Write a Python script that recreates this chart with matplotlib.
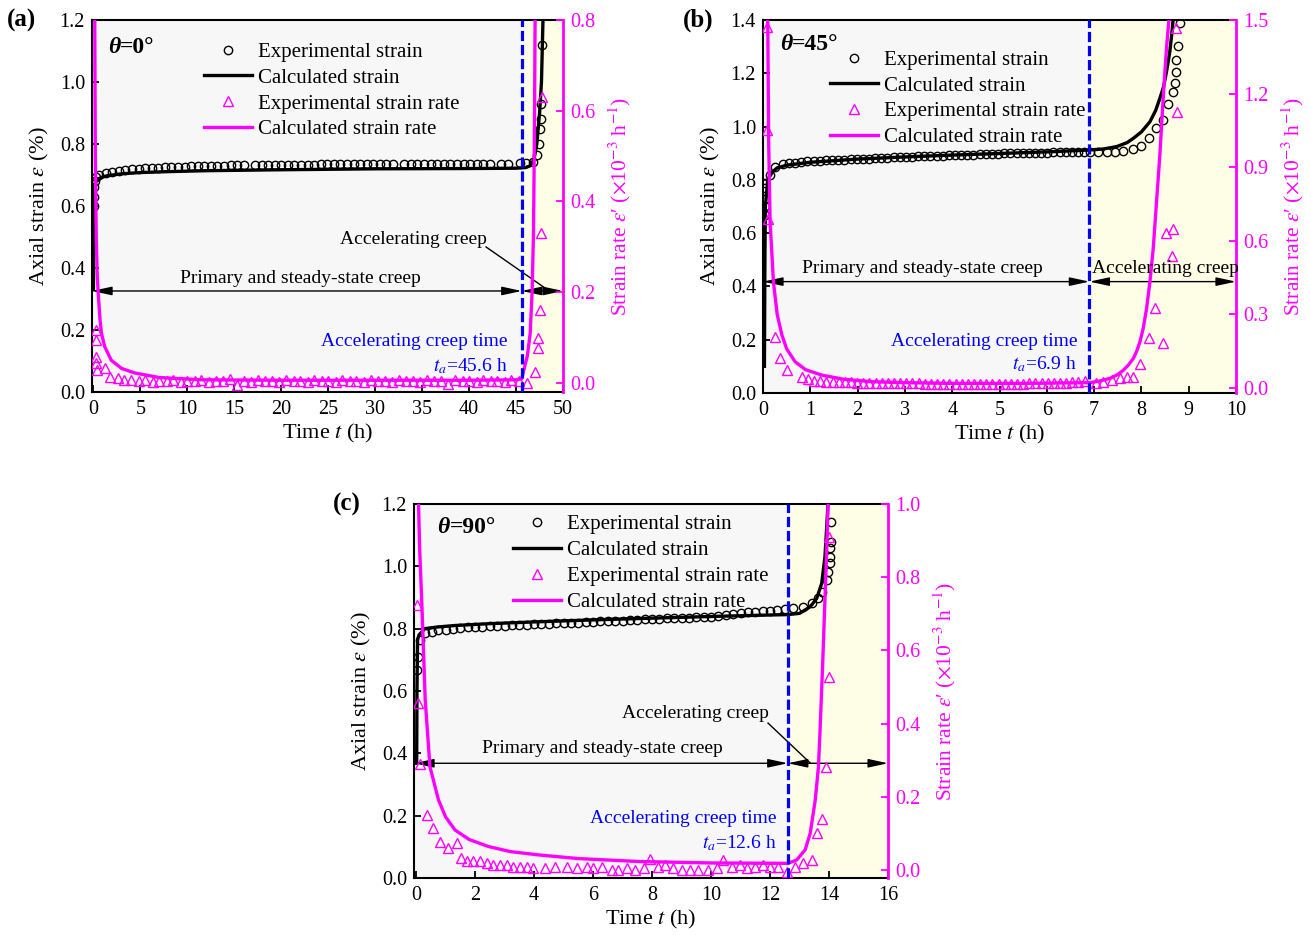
import matplotlib.pyplot as plt

plt.rcParams['font.family'] = ['Liberation Serif', 'DejaVu Serif']
plt.rcParams['mathtext.fontset'] = 'stix'
plt.rcParams['axes.unicode_minus'] = False

MAGENTA = '#ff00ff'
BLUE = '#0000ff'
GRAY_BG = '#f7f7f7'
YELLOW_BG = '#fefee6'

# ---------------- (a) theta = 0 deg ----------------
ta_a = 45.6
es_t_a = [
    0.02, 0.06, 0.10, 0.15, 0.25, 0.6, 1.3, 2.0, 2.7, 3.4,
    4.1, 4.8, 5.5, 6.2, 6.9, 7.6, 8.3, 9.0, 9.7, 10.4,
    11.1, 11.8, 12.5, 13.2, 13.9, 14.6, 15.3, 16.0, 17.2, 17.9,
    18.6, 19.3, 20.0, 20.7, 21.4, 22.1, 22.8, 23.5, 24.2, 24.9,
    25.6, 26.3, 27.0, 27.7, 28.4, 29.1, 29.8, 30.5, 31.2, 31.9,
    33.1, 33.8, 34.5, 35.2, 35.9, 36.6, 37.3, 38.0, 38.7, 39.4,
    40.1, 40.8, 41.5, 42.2, 43.4, 44.1, 45.4, 46.1, 46.8, 47.2,
    47.4, 47.5, 47.6, 47.7, 47.8]
es_v_a = [
    0.600, 0.630, 0.660, 0.680, 0.695, 0.700, 0.705, 0.710, 0.713, 0.716,
    0.718, 0.720, 0.722, 0.723, 0.724, 0.725, 0.726, 0.727, 0.727, 0.728,
    0.728, 0.729, 0.729, 0.730, 0.730, 0.731, 0.731, 0.731, 0.731, 0.732,
    0.732, 0.732, 0.732, 0.733, 0.733, 0.733, 0.733, 0.733, 0.734, 0.734,
    0.734, 0.734, 0.734, 0.734, 0.735, 0.735, 0.735, 0.735, 0.735, 0.735,
    0.735, 0.735, 0.736, 0.736, 0.736, 0.736, 0.736, 0.736, 0.736, 0.736,
    0.737, 0.737, 0.737, 0.737, 0.737, 0.737, 0.740, 0.740, 0.742, 0.765,
    0.800, 0.850, 0.880, 0.930, 1.120]
cs_t_a = [0.0, 0.02, 0.05, 0.1, 0.2, 0.4, 0.8, 1.5, 3.0, 5.0, 8.0, 12.0,
          20.0, 30.0, 40.0, 45.0, 46.0, 46.5, 46.9, 47.2, 47.5, 47.7, 47.9]
cs_v_a = [0.33, 0.55, 0.63, 0.66, 0.675, 0.685, 0.692, 0.698, 0.704, 0.708,
          0.711, 0.714, 0.717, 0.720, 0.721, 0.722, 0.724, 0.730, 0.750,
          0.800, 0.900, 1.000, 1.250]
er_t_a = [
    0.30, 0.30, 0.30, 0.30, 0.35, 1.2, 1.8, 2.6, 3.3, 4.0,
    4.8, 5.5, 6.3, 7.0, 7.8, 8.5, 9.3, 10.0, 10.8, 11.5,
    12.3, 13.0, 13.8, 14.5, 15.3, 16.0, 16.8, 17.5, 18.3, 19.0,
    19.8, 20.5, 21.3, 22.0, 22.8, 23.5, 24.3, 25.0, 25.8, 26.5,
    27.3, 28.0, 28.8, 29.5, 30.3, 31.0, 31.8, 32.5, 33.3, 34.0,
    34.8, 35.5, 36.3, 37.0, 37.8, 38.5, 39.3, 40.0, 40.8, 41.5,
    42.3, 43.0, 43.8, 44.5, 45.3, 46.2, 47.0, 47.3, 47.3, 47.5,
    47.7, 47.8]
er_r_a = [
    0.117, 0.095, 0.057, 0.044, 0.029, 0.033, 0.013, 0.011, 0.007, 0.006,
    0.004, 0.006, 0.003, 0.005, 0.004, 0.006, 0.003, 0.005, 0.004, 0.006,
    0.003, 0.005, 0.004, 0.008, -0.004, 0.005, 0.003, 0.006, 0.004, 0.005,
    0.003, 0.006, 0.004, 0.005, 0.003, 0.006, 0.004, 0.005, 0.003, 0.006,
    0.004, 0.005, 0.003, 0.006, 0.004, 0.005, 0.003, 0.006, 0.004, 0.005,
    0.003, 0.006, 0.004, 0.005, -0.002, 0.006, 0.004, 0.005, 0.003, 0.006,
    0.004, 0.005, 0.003, 0.006, 0.004, 0.000, 0.025, 0.077, 0.099, 0.160,
    0.330, 0.630]
cr_t_a = [0.05, 0.10, 0.14, 0.20, 0.30, 0.40, 0.50, 0.70, 0.85, 1.2, 1.9,
          3.0, 4.4, 7.0, 11.5, 20.0, 30.0, 40.0, 45.0, 45.6, 45.9, 46.2,
          46.5, 46.7, 46.85, 46.95, 47.05]
cr_r_a = [3.0, 1.2, 0.80, 0.50, 0.32, 0.24, 0.20, 0.14, 0.11, 0.08, 0.05,
          0.032, 0.022, 0.012, 0.007, 0.006, 0.006, 0.006, 0.007, 0.009,
          0.035, 0.060, 0.110, 0.200, 0.330, 0.550, 0.900]

# ---------------- (b) theta = 45 deg ----------------
ta_b = 6.9
es_t_b = [
    0.04, 0.04, 0.04, 0.04, 0.04, 0.15, 0.25, 0.42, 0.55, 0.68,
    0.81, 0.94, 1.07, 1.20, 1.33, 1.46, 1.59, 1.72, 1.85, 1.98,
    2.11, 2.24, 2.37, 2.50, 2.63, 2.76, 2.89, 3.02, 3.15, 3.28,
    3.41, 3.54, 3.67, 3.80, 3.93, 4.06, 4.19, 4.32, 4.45, 4.58,
    4.71, 4.84, 4.97, 5.10, 5.23, 5.36, 5.49, 5.62, 5.75, 5.88,
    6.01, 6.14, 6.27, 6.40, 6.53, 6.66, 6.79, 6.91, 7.09, 7.27,
    7.44, 7.62, 7.82, 7.99, 8.17, 8.31, 8.45, 8.57, 8.66, 8.71,
    8.73, 8.74, 8.78, 8.82]
es_v_b = [
    0.668, 0.700, 0.730, 0.770, 0.790, 0.820, 0.850, 0.860, 0.863, 0.865,
    0.867, 0.869, 0.870, 0.872, 0.873, 0.874, 0.875, 0.876, 0.877, 0.878,
    0.879, 0.880, 0.881, 0.882, 0.883, 0.884, 0.885, 0.886, 0.887, 0.888,
    0.889, 0.890, 0.891, 0.891, 0.892, 0.893, 0.894, 0.894, 0.895, 0.896,
    0.897, 0.897, 0.898, 0.899, 0.899, 0.900, 0.900, 0.901, 0.901, 0.902,
    0.902, 0.903, 0.903, 0.904, 0.904, 0.905, 0.905, 0.906, 0.906, 0.906,
    0.906, 0.908, 0.916, 0.928, 0.956, 0.996, 1.025, 1.084, 1.131, 1.162,
    1.204, 1.250, 1.304, 1.390]
cs_t_b = [0.03, 0.04, 0.05, 0.10, 0.20, 0.30, 0.50, 1.0, 2.0, 3.0, 4.0,
          5.0, 6.0, 6.9, 7.2, 7.48, 7.7, 7.83, 8.0, 8.18, 8.3, 8.39, 8.47,
          8.53, 8.6, 8.64, 8.68]
cs_v_b = [0.10, 0.50, 0.70, 0.80, 0.83, 0.845, 0.855, 0.866, 0.878, 0.886,
          0.893, 0.899, 0.905, 0.912, 0.916, 0.925, 0.940, 0.956, 0.980,
          1.018, 1.060, 1.106, 1.150, 1.206, 1.280, 1.344, 1.420]
er_t_b = [
    0.09, 0.09, 0.11, 0.25, 0.36, 0.50, 0.82, 0.95, 1.08, 1.21,
    1.34, 1.47, 1.60, 1.73, 1.86, 1.99, 2.12, 2.25, 2.38, 2.51,
    2.64, 2.77, 2.90, 3.03, 3.16, 3.29, 3.42, 3.55, 3.68, 3.81,
    3.94, 4.07, 4.20, 4.33, 4.46, 4.59, 4.72, 4.85, 4.98, 5.11,
    5.24, 5.37, 5.50, 5.63, 5.76, 5.89, 6.02, 6.15, 6.28, 6.41,
    6.54, 6.67, 6.80, 7.05, 7.19, 7.37, 7.55, 7.69, 7.83, 7.97,
    8.17, 8.29, 8.46, 8.53, 8.67, 8.64, 8.75, 8.73]
er_r_b = [
    1.473, 1.050, 0.690, 0.209, 0.121, 0.073, 0.046, 0.035, 0.030, 0.028,
    0.026, 0.025, 0.024, 0.024, 0.023, 0.022, 0.022, 0.021, 0.021, 0.020,
    0.020, 0.020, 0.019, 0.019, 0.019, 0.019, 0.018, 0.018, 0.018, 0.018,
    0.018, 0.018, 0.018, 0.018, 0.018, 0.018, 0.018, 0.018, 0.018, 0.018,
    0.018, 0.018, 0.018, 0.019, 0.019, 0.019, 0.019, 0.020, 0.020, 0.022,
    0.024, 0.026, 0.028, 0.019, 0.026, 0.033, 0.040, 0.046, 0.046, 0.100,
    0.203, 0.325, 0.182, 0.630, 0.650, 0.540, 1.126, 1.466]
cr_t_b = [0.07, 0.10, 0.12, 0.15, 0.22, 0.30, 0.40, 0.50, 0.68, 0.90, 1.24,
          1.70, 2.30, 3.0, 4.06, 5.5, 6.9, 7.1, 7.34, 7.5, 7.62, 7.73, 7.83,
          7.9, 7.97, 8.04, 8.11, 8.18, 8.25, 8.32, 8.39, 8.46, 8.53, 8.59]
cr_r_b = [2.5, 1.5, 1.0, 0.68, 0.433, 0.30, 0.216, 0.16, 0.107, 0.075, 0.053,
          0.036, 0.026, 0.022, 0.019, 0.019, 0.022, 0.028, 0.040, 0.055,
          0.073, 0.095, 0.121, 0.150, 0.189, 0.245, 0.325, 0.433, 0.569,
          0.760, 0.950, 1.181, 1.385, 1.520]

# ---------------- (c) theta = 90 deg ----------------
ta_c = 12.6
es_t_c = [
    0.02, 0.08, 0.14, 0.30, 0.53, 0.76, 1.00, 1.25, 1.50, 1.75,
    2.00, 2.25, 2.50, 2.75, 3.00, 3.25, 3.50, 3.75, 4.00, 4.25,
    4.50, 4.75, 5.00, 5.25, 5.50, 5.75, 6.00, 6.25, 6.50, 6.75,
    7.00, 7.25, 7.50, 7.75, 8.00, 8.25, 8.50, 8.75, 9.00, 9.25,
    9.50, 9.75, 10.00, 10.25, 10.50, 10.75, 11.00, 11.25, 11.50, 11.75,
    12.00, 12.25, 12.50, 12.79, 13.13, 13.41, 13.64, 13.75, 13.92, 13.97,
    14.03, 14.03, 14.03, 14.06, 14.06]
es_v_c = [
    0.667, 0.710, 0.763, 0.785, 0.790, 0.796, 0.797, 0.800, 0.802, 0.804,
    0.805, 0.806, 0.807, 0.808, 0.810, 0.811, 0.812, 0.813, 0.815, 0.815,
    0.816, 0.817, 0.818, 0.819, 0.819, 0.820, 0.822, 0.823, 0.824, 0.825,
    0.826, 0.827, 0.829, 0.830, 0.832, 0.832, 0.833, 0.833, 0.834, 0.835,
    0.836, 0.837, 0.838, 0.842, 0.845, 0.848, 0.850, 0.852, 0.854, 0.855,
    0.856, 0.859, 0.862, 0.865, 0.870, 0.881, 0.897, 0.919, 0.956, 0.983,
    1.010, 1.031, 1.058, 1.079, 1.143]
cs_t_c = [0.02, 0.03, 0.05, 0.10, 0.30, 0.70, 1.32, 2.50, 4.15, 6.00, 7.76,
          10.0, 12.1, 12.6, 13.0, 13.36, 13.58, 13.75, 13.86, 13.92, 13.97]
cs_v_c = [0.368, 0.600, 0.763, 0.780, 0.800, 0.805, 0.810, 0.816, 0.822,
          0.828, 0.833, 0.839, 0.844, 0.845, 0.849, 0.870, 0.897, 0.945,
          1.030, 1.126, 1.213]
er_t_c = [
    0.04, 0.08, 0.14, 0.36, 0.59, 0.81, 1.07, 1.38, 1.53, 1.72,
    1.94, 2.17, 2.40, 2.62, 2.85, 3.07, 3.30, 3.53, 3.75, 3.98,
    4.37, 4.71, 5.11, 5.45, 5.79, 6.01, 6.29, 6.63, 6.86, 7.14,
    7.42, 7.71, 7.93, 8.21, 8.44, 8.72, 9.01, 9.29, 9.57, 9.91,
    10.19, 10.42, 10.70, 10.98, 11.21, 11.49, 11.77, 12.00, 12.28, 12.57,
    12.85, 13.13, 13.41, 13.60, 13.75, 13.90, 14.01, 14.01]
er_r_c = [
    0.724, 0.455, 0.290, 0.150, 0.114, 0.077, 0.059, 0.073, 0.032, 0.023,
    0.023, 0.023, 0.018, 0.014, 0.014, 0.014, 0.009, 0.009, 0.009, 0.005,
    0.005, 0.009, 0.009, 0.005, 0.009, 0.005, 0.009, 0.000, 0.000, 0.005,
    0.000, 0.005, 0.029, 0.009, 0.014, 0.005, 0.000, 0.000, 0.000, 0.000,
    0.005, 0.027, 0.009, 0.014, 0.005, 0.009, 0.014, 0.009, 0.009, -0.005,
    0.009, 0.018, 0.027, 0.100, 0.139, 0.282, 0.528, 0.911]
cr_t_c = [0.05, 0.08, 0.12, 0.19, 0.31, 0.47, 0.76, 1.00, 1.32, 1.80, 2.45,
          3.20, 4.15, 5.50, 7.54, 10.0, 12.6, 12.9, 13.19, 13.36, 13.53,
          13.64, 13.69, 13.78, 13.86, 13.92, 13.97]
cr_r_c = [1.60, 1.01, 0.88, 0.738, 0.464, 0.282, 0.191, 0.145, 0.109, 0.083,
          0.064, 0.050, 0.041, 0.031, 0.023, 0.019, 0.018, 0.027, 0.055,
          0.100, 0.190, 0.282, 0.373, 0.556, 0.738, 0.874, 1.010]

LABELS = ['Experimental strain', 'Calculated strain',
          'Experimental strain rate', 'Calculated strain rate']


def creep_panel(fig, rect, tag, tag_xy, theta, t_a, xlim, xticks, ylim, yticks,
                rlim, rticks, es, cs, er, cr, legend_xy, theta_xy,
                arrow_y, prim_xy, acc_xy, acc_leader, blue_xy):
    ax = fig.add_axes(rect)
    ax2 = ax.twinx()

    # stage shading
    ax.axvspan(xlim[0], t_a, color=GRAY_BG, lw=0, zorder=0)
    ax.axvspan(t_a, xlim[1], color=YELLOW_BG, lw=0, zorder=0)

    h1, = ax.plot(es[0], es[1], ls='none', marker='o', ms=6, mfc='none',
                  mec='black', mew=1.0, zorder=3)
    h2, = ax.plot(cs[0], cs[1], color='black', lw=2.4, zorder=2)
    h3, = ax2.plot(er[0], er[1], ls='none', marker='^', ms=6.5, mfc='none',
                   mec=MAGENTA, mew=1.0, zorder=3)
    h4, = ax2.plot(cr[0], cr[1], color=MAGENTA, lw=2.4, zorder=2)

    ax2.axvline(t_a, color=BLUE, lw=2.3, dashes=(3.2, 1.2), zorder=6)

    ax.set_xlim(xlim)
    ax.set_ylim(ylim)
    ax2.set_ylim(rlim)
    ax.set_xticks(xticks)
    ax.set_xticklabels([f'{v:g}' for v in xticks])
    ax.set_yticks(yticks)
    ax.set_yticklabels([f'{v:.1f}' for v in yticks])
    ax2.set_yticks(rticks)
    ax2.set_yticklabels([f'{v:.1f}' for v in rticks])

    for s in ('left', 'bottom', 'top'):
        ax.spines[s].set_linewidth(1.5)
    ax.spines['right'].set_visible(False)
    for s in ('left', 'bottom', 'top'):
        ax2.spines[s].set_visible(False)
    ax2.spines['right'].set_color(MAGENTA)
    ax2.spines['right'].set_linewidth(2.0)

    ax.tick_params(direction='in', length=5, width=1.3, labelsize=14.5,
                   top=False, right=False)
    ax.tick_params(axis='x', pad=6)
    ax.tick_params(axis='y', pad=5)
    ax2.tick_params(axis='y', direction='in', length=5, width=1.3,
                    colors=MAGENTA, labelsize=14.5, pad=5)

    ax.set_xlabel(r'Time $t$ (h)', fontsize=16, labelpad=2)
    ax.set_ylabel(r'Axial strain $\varepsilon$ (%)', fontsize=16, labelpad=6)
    ax2.set_ylabel('Strain rate $\\varepsilon$\u2032 ($\\times$10$^{-3}$ h$^{-1}$)',
                   fontsize=15.5, color=MAGENTA, labelpad=8)

    ax2.legend([h1, h2, h3, h4], LABELS, loc='upper left',
               bbox_to_anchor=legend_xy, bbox_transform=ax.transAxes,
               frameon=False, borderpad=0, borderaxespad=0,
               handlelength=2.3, handletextpad=0.3, labelspacing=0.3,
               fontsize=15)

    # angle label: bold italic theta followed by bold value
    th = ax2.text(theta_xy[0], theta_xy[1], '\u03b8', transform=ax.transAxes,
                  fontsize=17, fontweight='bold', fontstyle='italic',
                  ha='left', va='center')
    ax2.annotate(f'={theta}\u00b0', xy=(1, 0), xycoords=th, fontsize=17,
                 fontweight='bold', ha='left', va='bottom')

    # stage arrows
    arrow_kw = dict(arrowstyle='<|-|>,head_length=0.6,head_width=0.13',
                    color='black', lw=1.0, shrinkA=0, shrinkB=0,
                    mutation_scale=20)
    ax.annotate('', xy=(t_a, arrow_y), xytext=(xlim[0], arrow_y),
                arrowprops=arrow_kw, zorder=4)
    ax.annotate('', xy=(xlim[1], arrow_y), xytext=(t_a, arrow_y),
                arrowprops=arrow_kw, zorder=4)

    ax2.text(prim_xy[0], prim_xy[1], 'Primary and steady-state creep',
             transform=ax.transAxes, fontsize=14, ha='center', va='center')
    ax2.text(acc_xy[0], acc_xy[1], 'Accelerating creep',
             transform=ax.transAxes, fontsize=14, ha='center', va='center')
    if acc_leader is not None:
        ax.plot(acc_leader[0], acc_leader[1], color='black', lw=1.0, zorder=4)

    ax2.text(blue_xy[0], blue_xy[1], 'Accelerating creep time',
             transform=ax.transAxes, fontsize=14, color=BLUE,
             ha='right', va='center')
    ax2.text(blue_xy[0], blue_xy[2], rf'$t_a$={t_a:g} h',
             transform=ax.transAxes, fontsize=14, color=BLUE,
             ha='right', va='center')

    fig.text(tag_xy[0], tag_xy[1], tag, fontsize=18, fontweight='bold',
             ha='left', va='center')
    return ax, ax2


fig = plt.figure(figsize=(13.11, 9.35), dpi=100)

creep_panel(fig, [0.0702, 0.5807, 0.3593, 0.3979], '(a)', (0.005, 0.978), 0,
            ta_a, (-0.15, 50), list(range(0, 51, 5)),
            (0, 1.2), [0, 0.2, 0.4, 0.6, 0.8, 1.0, 1.2],
            (-0.02, 0.8), [0, 0.2, 0.4, 0.6, 0.8],
            (es_t_a, es_v_a), (cs_t_a, cs_v_a), (er_t_a, er_r_a),
            (cr_t_a, cr_r_a),
            legend_xy=(0.238, 0.94), theta_xy=(0.034, 0.927),
            arrow_y=0.326, prim_xy=(0.442, 0.306), acc_xy=(0.682, 0.409),
            acc_leader=([41.8, 48.1], [0.468, 0.335]),
            blue_xy=(0.883, 0.137, 0.070))

creep_panel(fig, [0.582, 0.5797, 0.3608, 0.3989], '(b)', (0.521, 0.978), 45,
            ta_b, (0, 10), list(range(0, 11)),
            (0, 1.4), [0, 0.2, 0.4, 0.6, 0.8, 1.0, 1.2, 1.4],
            (-0.02, 1.5), [0, 0.3, 0.6, 0.9, 1.2, 1.5],
            (es_t_b, es_v_b), (cs_t_b, cs_v_b), (er_t_b, er_r_b),
            (cr_t_b, cr_r_b),
            legend_xy=(0.142, 0.919), theta_xy=(0.036, 0.933),
            arrow_y=0.418, prim_xy=(0.336, 0.335), acc_xy=(0.85, 0.335),
            acc_leader=None,
            blue_xy=(0.664, 0.139, 0.078))

creep_panel(fig, [0.3158, 0.0610, 0.3616, 0.4000], '(c)', (0.254, 0.460), 90,
            ta_c, (-0.07, 16), list(range(0, 17, 2)),
            (0, 1.2), [0, 0.2, 0.4, 0.6, 0.8, 1.0, 1.2],
            (-0.022, 1.0), [0, 0.2, 0.4, 0.6, 0.8, 1.0],
            (es_t_c, es_v_c), (cs_t_c, cs_v_c), (er_t_c, er_r_c),
            (cr_t_c, cr_r_c),
            legend_xy=(0.209, 0.971), theta_xy=(0.049, 0.936),
            arrow_y=0.368, prim_xy=(0.397, 0.345), acc_xy=(0.593, 0.441),
            acc_leader=([11.93, 13.36], [0.497, 0.369]),
            blue_xy=(0.764, 0.158, 0.094))

fig.savefig('out.png', dpi=100)
